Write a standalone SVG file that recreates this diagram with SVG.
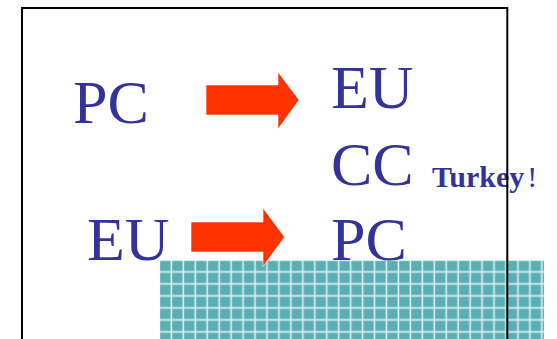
<svg xmlns="http://www.w3.org/2000/svg" width="557" height="339" viewBox="0 0 557 339">
  <style>
    .big { font-family: "Liberation Serif", "Times New Roman", serif; font-size: 62px; fill: #333399; }
    .small { font-family: "Liberation Serif", "Times New Roman", serif; font-size: 30px; font-weight: bold; fill: #333399; }
    .bang { font-weight: normal; }
    .arrow { fill: #FF3300; stroke: #ffffff; stroke-width: 0.6; }
    .frame { fill: none; stroke: #000000; stroke-width: 2; }
  </style>
  <defs>
    <pattern id="tiles" patternUnits="userSpaceOnUse" x="160" y="260.5" width="11.95" height="12">
      <rect x="0" y="0" width="11.95" height="12" fill="#E4F1F1"/>
      <rect x="0.2" y="0.2" width="10.4" height="10.4" fill="#5AAFB4"/>
    </pattern>
  </defs>
  <rect width="557" height="339" fill="#ffffff"/>
  <g id="grid">
    <rect x="160" y="260.5" width="384" height="79" fill="url(#tiles)"/>
  </g>
  <g id="node-pc-left"><text class="big" x="73" y="123">PC</text></g>
  <g id="node-eu-right"><text class="big" x="331" y="108">EU</text></g>
  <g id="node-cc"><text class="big" x="331" y="185">CC</text></g>
  <g id="node-turkey"><text class="small" x="432" y="187">Turkey<tspan class="bang" dx="3">!</tspan></text></g>
  <g id="node-eu-left"><text class="big" x="87" y="259.5">EU</text></g>
  <g id="node-pc-right"><text class="big" x="331" y="260">PC</text></g>
  <g id="connectors">
    <path class="arrow" d="M206,85 H278 V72 L299,100 L278,129 V115 H206 Z"/>
    <path class="arrow" d="M191,222 H263 V208 L284.5,237 L263,266.5 V252 H191 Z"/>
  </g>
  <rect class="frame" x="22" y="8" width="485.3" height="340"/>
</svg>
